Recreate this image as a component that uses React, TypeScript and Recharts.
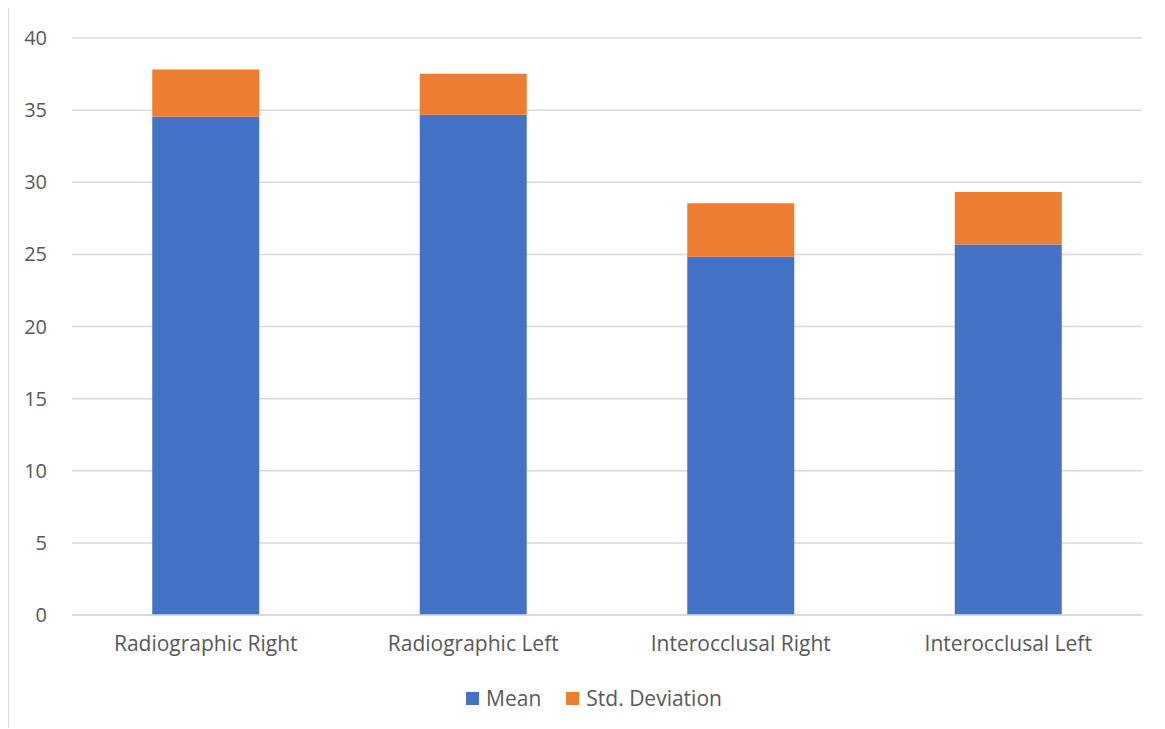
import { BarChart, Bar, XAxis, YAxis, CartesianGrid, Legend } from 'recharts';

const categories = ['Radiographic Right', 'Radiographic Left', 'Interocclusal Right', 'Interocclusal Left'];
const meanValues = [34.54, 34.68, 24.83, 25.69];
const stdValues = [3.28, 2.84, 3.71, 3.64];
const yTicks = [0, 5, 10, 15, 20, 25, 30, 35, 40];

const data = categories.map((name, i) => ({ name, mean: meanValues[i], std: stdValues[i] }));

const textColor = '#595959';
const fontFamily = '"Open Sans", sans-serif';
const fontSize = 21;

function LegendContent() {
  const items = [
    { label: 'Mean', color: '#4472c4' },
    { label: 'Std. Deviation', color: '#ed7d31' },
  ];
  return (
    <div
      style={{
        display: 'flex',
        justifyContent: 'center',
        gap: 25,
        paddingLeft: 37,
        fontFamily,
        fontSize: 21,
        color: textColor,
      }}
    >
      {items.map((it) => (
        <div key={it.label} style={{ display: 'flex', alignItems: 'center', gap: 7 }}>
          <span style={{ width: 13, height: 13, background: it.color, display: 'inline-block' }} />
          <span>{it.label}</span>
        </div>
      ))}
    </div>
  );
}

export default function App() {
  return (
    <div
      style={{
        position: 'relative',
        width: 1157,
        height: 721,
        borderLeft: '1px solid #d9d9d9',
        borderTop: '1px solid #d9d9d9',
        marginTop: -1,
        boxSizing: 'border-box',
        background: '#fff',
      }}
    >
      <BarChart
        width={1156}
        height={720}
        data={data}
        margin={{ top: 30, right: 23, left: 0, bottom: 16 }}
        barCategoryGap="30%"
        style={{ fontFamily }}
      >
        <CartesianGrid vertical={false} stroke="#d9d9d9" strokeWidth={1.5} />
        <XAxis
          dataKey="name"
          axisLine={{ stroke: '#d9d9d9', strokeWidth: 1.5 }}
          tickLine={false}
          tickMargin={15}
          height={69}
          tick={{ fill: textColor, fontSize }}
        />
        <YAxis
          domain={[0, 40]}
          ticks={yTicks}
          axisLine={false}
          tickLine={false}
          width={63}
          tickMargin={19}
          tick={{ fill: textColor, fontSize: 20 }}
        />
        <Legend verticalAlign="bottom" content={<LegendContent />} />
        <Bar dataKey="mean" name="Mean" stackId="a" fill="#4472c4" isAnimationActive={false} />
        <Bar dataKey="std" name="Std. Deviation" stackId="a" fill="#ed7d31" isAnimationActive={false} />
      </BarChart>
    </div>
  );
}
